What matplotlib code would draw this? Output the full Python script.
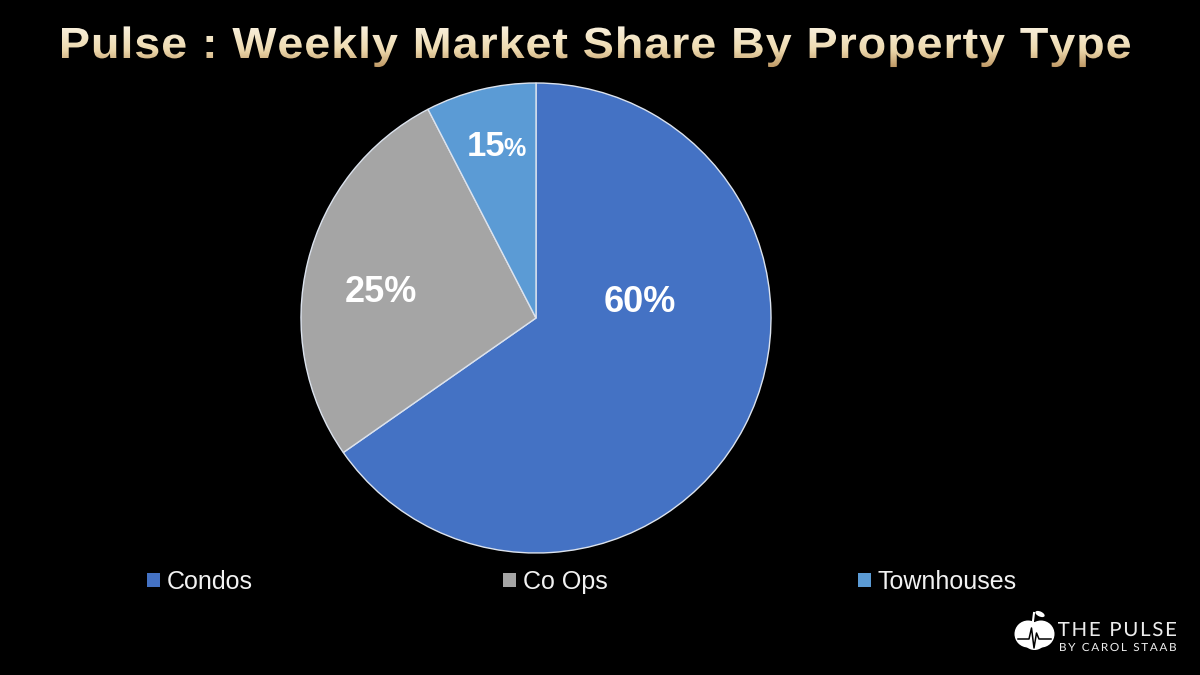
"""
Pulse : weekly market share by property type (pie chart on black slide)
"""
import numpy as np
import matplotlib.pyplot as plt
from matplotlib.textpath import TextPath
from matplotlib.font_manager import FontProperties, findfont, get_font
from matplotlib.patches import PathPatch, Circle, Ellipse, Patch
from matplotlib.path import Path
from matplotlib.transforms import Affine2D

title = 'Pulse : Weekly Market Share By Property Type'
categories = ['Condos', 'Co Ops', 'Townhouses']
shares = [65.3, 27.1, 7.6]          # slice sizes as drawn
share_labels = ['60', '25', '15']   # percentages printed on the slices
colors = ['#4472C4', '#A5A5A5', '#5B9BD5']

W, H = 1200, 675
fig = plt.figure(figsize=(12, 6.75), dpi=100, facecolor='black')

# full-figure axes in pixel coords (y down) for title and logo
bg = fig.add_axes([0, 0, 1, 1])
bg.set_axis_off()


def spaced_text(s, x0, x1, ybase, ytop, prop, stretch=1.0):
    # text set at a cap height, widened by stretch, letters spread to fill x0..x1
    font = get_font(findfont(prop))
    font.set_size(100, 72)
    cap = TextPath((0, 0), 'H', prop=prop, size=100).get_extents().height
    k = (ybase - ytop) / cap
    kx = k * stretch
    advs = [font.load_char(ord(c)).linearHoriAdvance / 65536 * kx for c in s]
    first = TextPath((0, 0), s[0], prop=prop, size=100).get_extents().x0 * kx
    last = TextPath((0, 0), s[-1], prop=prop, size=100).get_extents().x1 * kx
    natural = sum(advs[:-1]) + last - first
    track = (x1 - x0 - natural) / (len(s) - 1)
    verts, codes = [], []
    x = x0 - first
    for c, a in zip(s, advs):
        if c != ' ':
            p = TextPath((0, 0), c, prop=prop, size=100)
            p = Affine2D().scale(kx, -k).translate(x, ybase).transform_path(p)
            verts.append(p.vertices)
            codes.append(p.codes)
        x += a + track
    return Path(np.concatenate(verts), np.concatenate(codes))


# title with gold gradient
tfont = FontProperties(family='Liberation Sans', weight='bold')
tpatch = PathPatch(spaced_text(title, 62, 1130, 58, 28, tfont, stretch=1.07),
                   facecolor='none', edgecolor='none')
bg.add_patch(tpatch)
grad = np.linspace(0, 1, 64)[:, None, None]
c_top = np.array([0.98, 0.95, 0.88])
c_mid = np.array([0.93, 0.85, 0.68])
c_bot = np.array([0.72, 0.56, 0.35])
rgb = np.where(grad < 0.55,
               c_top + (c_mid - c_top) * (grad / 0.55),
               c_mid + (c_bot - c_mid) * ((grad - 0.55) / 0.45))
img = bg.imshow(rgb, extent=(55, 1140, 70, 25), aspect='auto',
                interpolation='bilinear')
img.set_clip_path(tpatch)

# logo
bg.add_patch(Circle((1028, 634), 13.5, color='white', lw=0))
bg.add_patch(Circle((1041, 634), 13.5, color='white', lw=0))
bg.add_patch(Circle((1034.5, 638), 12, color='white', lw=0))
bg.add_patch(Ellipse((1040, 614), 10, 5, angle=25, color='white', lw=0))
bg.plot([1033, 1034], [621, 613], color='white', lw=1.5)
bg.plot([1018, 1029, 1031.5, 1034, 1036.5, 1039, 1051],
        [639, 639, 628, 648, 633, 639, 639], color='black', lw=1.1)
lfont = FontProperties(family='Lato')
for s, x0, x1, yb, yt in [('THE PULSE', 1058, 1176, 636, 622),
                          ('BY CAROL STAAB', 1060, 1176, 651, 643)]:
    bg.add_patch(PathPatch(spaced_text(s, x0, x1, yb, yt, lfont, stretch=1.05),
                           facecolor='#EDEDED', edgecolor='none'))

bg.set_xlim(0, W)
bg.set_ylim(H, 0)

# pie
cx, cy, r = 536, 318, 235
ax = fig.add_axes([(cx - r) / W, (H - cy - r) / H, 2 * r / W, 2 * r / H])
wedges, _ = ax.pie(shares, colors=colors, startangle=90, counterclock=False,
                   radius=1, wedgeprops=dict(edgecolor='#DCE3EE', linewidth=1))
ax.set_xlim(-1, 1)
ax.set_ylim(-1, 1)
ax.set_aspect('equal')

lab = dict(color='white', fontweight='bold', family='Liberation Sans')
ax.text(0.443, 0.068, share_labels[0] + '%', fontsize=26, ha='center', va='center', **lab)
ax.text(-0.66, 0.11, share_labels[1] + '%', fontsize=26, ha='center', va='center', **lab)
ax.text(-0.132, 0.689, share_labels[2], fontsize=25, ha='right', va='baseline', **lab)
ax.text(-0.14, 0.689, '%', fontsize=18, ha='left', va='baseline', **lab)

handles = [Patch(facecolor=c, edgecolor='none') for c in colors]
leg = fig.legend(handles, categories, loc='center left',
                 bbox_to_anchor=(147 / W, (H - 582) / H), ncol=3,
                 frameon=False, borderpad=0, borderaxespad=0,
                 handlelength=0.52, handleheight=0.52, handletextpad=0.28,
                 columnspacing=10.0,
                 prop=FontProperties(family='Liberation Sans', size=18))
for t in leg.get_texts():
    t.set_color('#F2F2F2')

fig.savefig('out.png', dpi=100, facecolor='black')
